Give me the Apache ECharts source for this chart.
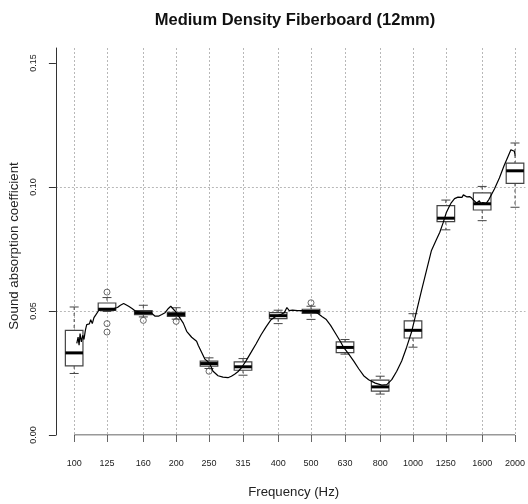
<!DOCTYPE html>
<html>
<head>
<meta charset="utf-8">
<script src="https://cdn.jsdelivr.net/npm/echarts@6/dist/echarts.min.js"></script>
<style>html,body{margin:0;padding:0;background:#fff;}#c{width:528px;height:504px;}</style>
</head>
<body>
<div id="c"></div>
<script>
// Band centre frequencies (Hz)
const freqs = [100,125,160,200,250,315,400,500,630,800,1000,1250,1600,2000];
const tickLabels = ['100','125','160','200','250','315','400','500','630','800','1000','1250','1600','2000'];
// Box statistics per band
const whiskerLow  = [0.0248,0.0498,0.0476,0.0467,0.0268,0.0241,0.0449,0.0466,0.0326,0.0165,0.0354,0.0827,0.0864,0.0918];
const q1          = [0.0279,0.0503,0.0485,0.0478,0.0278,0.0261,0.0469,0.0490,0.0332,0.0177,0.0391,0.0860,0.0907,0.1014];
const median      = [0.0331,0.0507,0.0493,0.0486,0.0288,0.0275,0.0481,0.0498,0.0353,0.0194,0.0422,0.0874,0.0932,0.1065];
const q3          = [0.0422,0.0532,0.0501,0.0494,0.0298,0.0295,0.0493,0.0507,0.0375,0.0221,0.0460,0.0925,0.0976,0.1096];
const whiskerHigh = [0.0516,0.0554,0.0523,0.0513,0.0311,0.0308,0.0503,0.0519,0.0385,0.0237,0.0489,0.0947,0.1002,0.1177];
// Outliers [frequency, value]
const outliers = [[125,0.0576],[125,0.0449],[125,0.0415],[160,0.0462],[200,0.0458],[250,0.0257],[500,0.0533]];
// Continuous measured curve
const curveFreq = [101.8,102.7,103.4,104.1,105.0,106.0,106.9,107.9,108.9,109.8,110.9,111.9,113.1,114.4,115.7,117.0,118.3,121.3,124.6,128.0,131.5,134.2,136.9,140.0,141.6,144.8,148.2,151.5,156.7,162.1,169.6,173.4,177.3,181.4,185.5,189.7,192.8,195.4,199.8,205.3,209.9,214.8,222.2,229.8,232.3,237.7,243.0,248.0,253.0,257.0,265.8,274.9,284.4,291.0,297.5,304.2,311.3,321.9,333.0,344.4,356.2,368.4,381.1,394.2,405.8,416.9,424.5,431.2,440.9,456.0,471.6,499.1,521.9,539.8,553.4,571.2,590.8,611.1,624.9,646.3,668.5,691.4,715.1,739.7,773.9,809.1,836.9,865.6,895.3,926.0,957.7,990.6,1024.6,1059.7,1096.1,1133.7,1172.6,1199.8,1226.8,1254.4,1283.5,1298,1312.4,1326,1341,1357.4,1375,1395,1408,1420.2,1440,1455,1468.9,1490,1512.2,1528,1541,1553.5,1570,1585,1606.8,1625,1643,1662.0,1676,1692.5,1738.8,1798.5,1857.6,1905.9,1944.9,1967.3,1990.0,2003.5];
const curveVal  = [0.0369,0.0395,0.0362,0.0409,0.0375,0.0402,0.0385,0.0422,0.0445,0.0453,0.0448,0.0465,0.0449,0.0473,0.0483,0.0486,0.0503,0.0507,0.0507,0.0509,0.0511,0.0514,0.0523,0.0530,0.0523,0.0519,0.0510,0.0500,0.0495,0.0493,0.0490,0.0479,0.0479,0.0486,0.0493,0.0510,0.0519,0.0514,0.0495,0.0471,0.0451,0.0418,0.0394,0.0378,0.0362,0.0334,0.0306,0.0296,0.0278,0.0257,0.0239,0.0233,0.0231,0.0237,0.0245,0.0255,0.0270,0.0300,0.0334,0.0368,0.0404,0.0436,0.0465,0.0479,0.0485,0.0493,0.0514,0.0501,0.0503,0.0501,0.0501,0.0499,0.0492,0.0477,0.0467,0.0442,0.0409,0.0376,0.0352,0.0326,0.0298,0.0267,0.0239,0.0223,0.0209,0.0201,0.0203,0.0223,0.0257,0.0298,0.0354,0.0416,0.0499,0.0583,0.0664,0.0744,0.0788,0.0817,0.0855,0.0897,0.0925,0.0937,0.0943,0.0953,0.0950,0.0959,0.0964,0.0958,0.0968,0.0965,0.0960,0.0967,0.0961,0.0955,0.0945,0.0947,0.0935,0.0939,0.0944,0.0932,0.0937,0.0942,0.0933,0.0941,0.0950,0.0955,0.0992,0.1036,0.1086,0.1122,0.1150,0.1158,0.1144,0.1126];
const yTicks = [0, 0.05, 0.10, 0.15];

const FONT = '"Liberation Sans", Arial, sans-serif';
const chart = echarts.init(document.getElementById('c'), null, {renderer: 'canvas'});
const boxData = freqs.map((f, i) => [f, whiskerLow[i], q1[i], median[i], q3[i], whiskerHigh[i]]);
const curveData = curveFreq.map((f, i) => [f, curveVal[i]]);
const baseLine = [[freqs[0], 0], [freqs[freqs.length - 1], 0]];

chart.setOption({
  animation: false,
  backgroundColor: '#fff',
  title: {
    text: 'Medium Density Fiberboard (12mm)',
    left: 290, top: 7, textAlign: 'center',
    textStyle: {fontFamily: FONT, fontSize: 16.5, fontWeight: 'bold', color: '#111'}
  },
  grid: {left: 55, right: 0, top: 48, bottom: 69, containLabel: false},
  xAxis: {
    type: 'log', logBase: 10, min: 88.33, max: 2147.6,
    name: 'Frequency (Hz)', nameLocation: 'middle', nameGap: 51,
    nameTextStyle: {fontFamily: FONT, fontSize: 13.2, color: '#222', padding: [0, 0, 0, 6]},
    axisLine: {show: false},
    axisTick: {show: true, length: 7, customValues: freqs, lineStyle: {color: '#666'}},
    axisLabel: {customValues: freqs, margin: 24, fontFamily: FONT, fontSize: 9, color: '#222',
      formatter: v => tickLabels[freqs.indexOf(Math.round(v))] ?? String(Math.round(v))},
    splitLine: {show: true, lineStyle: {color: '#b8b8b8', type: [2, 2], width: 1}}
  },
  yAxis: {
    type: 'value', min: 0, max: 0.156,
    name: 'Sound absorption coefficient', nameLocation: 'middle', nameGap: 33,
    nameTextStyle: {fontFamily: FONT, fontSize: 13.3, color: '#222', padding: [0, 9, 0, 0]},
    axisLine: {show: true, lineStyle: {color: '#333', width: 1}},
    axisTick: {show: true, length: 7, customValues: yTicks, lineStyle: {color: '#333'}},
    axisLabel: {customValues: yTicks, rotate: 90, margin: 18, fontFamily: FONT, fontSize: 9, color: '#222',
      formatter: v => v.toFixed(2)},
    splitLine: {show: true, showMinLine: false, showMaxLine: false, lineStyle: {color: '#b8b8b8', type: [2, 2], width: 1}}
  },
  series: [
    {
      type: 'line', data: baseLine, symbol: 'none', silent: true, z: 1,
      lineStyle: {color: '#333', width: 1}
    },
    {
      type: 'custom', z: 2, data: boxData,
      encode: {x: 0, y: [1, 2, 3, 4, 5]},
      renderItem: function (params, api) {
        const f = api.value(0);
        const pLo = api.coord([f, api.value(1)]);
        const pQ1 = api.coord([f, api.value(2)]);
        const pMd = api.coord([f, api.value(3)]);
        const pQ3 = api.coord([f, api.value(4)]);
        const pHi = api.coord([f, api.value(5)]);
        const x = pMd[0], hw = 8.8, cw = 4.5;
        const wStyle = {stroke: '#444', lineWidth: 1, lineDash: [3, 3]};
        const cStyle = {stroke: '#444', lineWidth: 1};
        return {type: 'group', children: [
          {type: 'line', shape: {x1: x, y1: pHi[1], x2: x, y2: pQ3[1]}, style: wStyle},
          {type: 'line', shape: {x1: x, y1: pQ1[1], x2: x, y2: pLo[1]}, style: wStyle},
          {type: 'line', shape: {x1: x - cw, y1: pHi[1], x2: x + cw, y2: pHi[1]}, style: cStyle},
          {type: 'line', shape: {x1: x - cw, y1: pLo[1], x2: x + cw, y2: pLo[1]}, style: cStyle},
          {type: 'rect', shape: {x: x - hw, y: pQ3[1], width: 2 * hw, height: pQ1[1] - pQ3[1]},
            style: {fill: '#fff', stroke: '#444', lineWidth: 1.2}},
          {type: 'line', shape: {x1: x - hw, y1: pMd[1], x2: x + hw, y2: pMd[1]},
            style: {stroke: '#000', lineWidth: 3}}
        ]};
      }
    },
    {
      type: 'scatter', z: 3, data: outliers, symbol: 'circle', symbolSize: 6,
      itemStyle: {color: 'rgba(255,255,255,0)', borderColor: '#444', borderWidth: 1}
    },
    {
      type: 'line', z: 4, data: curveData, symbol: 'none', smooth: false,
      lineStyle: {color: '#000', width: 1.2}
    }
  ]
});
</script>
</body>
</html>
